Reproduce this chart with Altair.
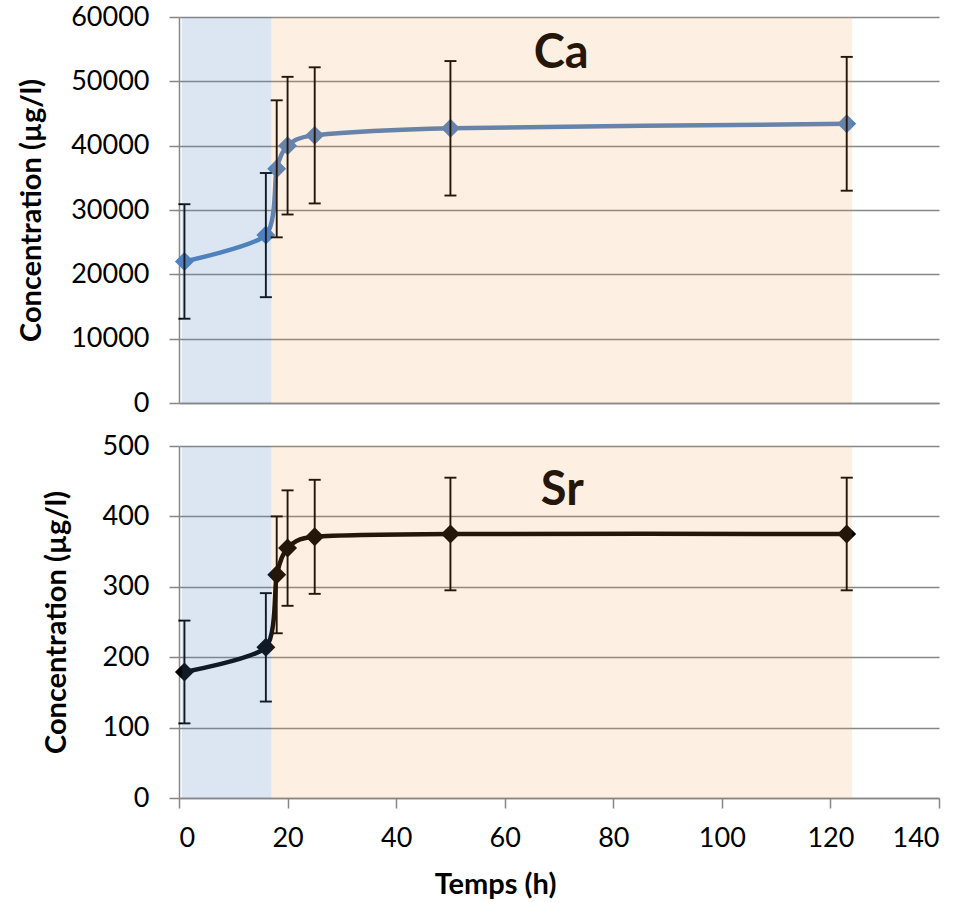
import altair as alt
import pandas as pd

# ---------------- data ----------------
time_h = [1, 16, 18, 20, 25, 50, 123]
ca_mean = [22000, 26100, 36400, 40000, 41600, 42700, 43400]
ca_err = [8900, 9650, 10650, 10700, 10580, 10450, 10400]
sr_mean = [179, 214, 317, 355, 371, 375, 375]
sr_err = [73, 77, 83, 82, 81, 80, 80]

x_ticks = [0, 20, 40, 60, 80, 100, 120, 140]
ca_ticks = [0, 10000, 20000, 30000, 40000, 50000, 60000]
sr_ticks = [0, 100, 200, 300, 400, 500]

phase_start = [0.5, 17]
phase_end = [17, 124]
phase_color = ["#4F81BD", "#F79646"]
phase_opacity = [0.2, 0.15]

FONT = "Lato"
GRID = "#878787"


def panel(mean, err, ticks, ymax, color, label, label_x, label_y, height, bottom, title_pad):
    df = pd.DataFrame({
        "t": time_h,
        "v": mean,
        "lo": [m - e for m, e in zip(mean, err)],
        "hi": [m + e for m, e in zip(mean, err)],
    })
    xscale = alt.Scale(domain=[0, 140], nice=False, zero=False)
    yscale = alt.Scale(domain=[0, ymax], nice=False)
    if bottom:
        xaxis = alt.Axis(values=x_ticks, grid=False, ticks=True, tickSize=10,
                         tickColor=GRID, tickWidth=1.5, domainColor=GRID, domainWidth=1.5,
                         labelFont=FONT, labelFontSize=27, labelColor="black", labelPadding=17,
                         title="Temps (h)", titleFont=FONT, titleFontSize=29,
                         titleFontWeight="bold", titleColor="black", titleX=316, titleY=95,
                         titleAlign="center", titleBaseline="alphabetic")
    else:
        xaxis = alt.Axis(values=x_ticks, labels=False, ticks=False, grid=False, title=None,
                         domainColor=GRID, domainWidth=1.5)
    yaxis = alt.Axis(values=ticks, format="d", grid=True, gridColor=GRID, gridWidth=1.5, tickSize=10,
                     tickColor=GRID, tickWidth=1.5, domainColor=GRID, domainWidth=1.5,
                     labelFont=FONT, labelFontSize=27, labelColor="black", labelPadding=20,
                     title="Concentration (µg/l)", titleFont=FONT, titleFontSize=29,
                     titleFontWeight="bold", titleColor="black", titlePadding=title_pad)

    def X(f):
        return alt.X(f + ":Q", scale=xscale, axis=xaxis)

    def Y(f):
        return alt.Y(f + ":Q", scale=yscale, axis=yaxis)

    base = alt.Chart(df)
    line = base.mark_line(interpolate="cardinal", tension=0.3, strokeWidth=4.5, color=color).encode(x=X("t"), y=Y("v"))
    pts = base.mark_point(shape="diamond", filled=True, size=360, opacity=1, color=color).encode(x=X("t"), y=Y("v"))
    rule = base.mark_rule(color="black", strokeWidth=1.9).encode(x=X("t"), y=Y("lo"), y2="hi:Q")
    cap_lo = base.mark_tick(orient="horizontal", size=12, thickness=1.9, color="black", opacity=1).encode(x=X("t"), y=Y("lo"))
    cap_hi = base.mark_tick(orient="horizontal", size=12, thickness=1.9, color="black", opacity=1).encode(x=X("t"), y=Y("hi"))

    lab_df = pd.DataFrame({"label": [label], "lx": [label_x], "ly": [label_y]})
    text = alt.Chart(lab_df).mark_text(font=FONT, fontSize=47, fontWeight="bold", color="black",
                                       baseline="middle", align="center").encode(
        x=X("lx"), y=Y("ly"), text="label:N")

    ph_df = pd.DataFrame({"x0": phase_start, "x1": phase_end, "c": phase_color, "o": phase_opacity})
    overlay = alt.Chart(ph_df).mark_rect().encode(
        x=X("x0"), x2="x1:Q", y=alt.value(0), y2=alt.value(height),
        color=alt.Color("c:N", scale=None), opacity=alt.Opacity("o:Q", scale=None))

    return alt.layer(line, pts, rule, cap_lo, cap_hi, text, overlay).properties(width=760, height=height)


top = panel(ca_mean, ca_err, ca_ticks, 60000, "#4F81BD", "Ca", 70.4, 54300, 386, False, 24)
bot = panel(sr_mean, sr_err, sr_ticks, 500, "#000000", "Sr", 70.6, 436, 352, True, 31)

chart = alt.vconcat(top, bot, spacing=43, bounds="flush").configure_view(stroke=None).properties(
    padding={"left": 17, "top": 3, "right": 5, "bottom": 3}, background="white")

chart.save("out.html", embed_options={"renderer": "svg", "actions": False})
